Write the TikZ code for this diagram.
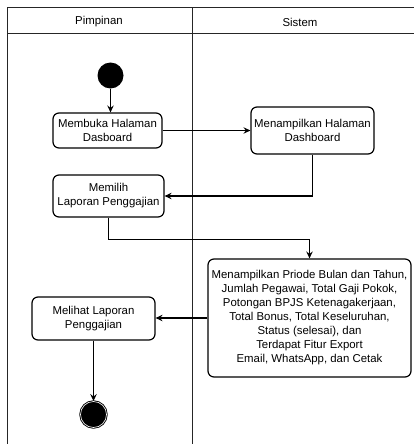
\documentclass[tikz,border=0pt]{standalone}
\usepackage{fontspec}
\setmainfont{Liberation Sans}
\usetikzlibrary{arrows.meta}
\begin{document}
\begin{tikzpicture}[x=1pt,y=-1pt,
  every node/.style={font=\fontsize{11.4}{14}\selectfont},
  lane/.style={line width=0.9pt, draw=black!85},
  action/.style={draw, line width=1.2pt, rounded corners=6pt, align=center,
    inner sep=0pt},
  flow/.style={line width=1.3pt, -{Stealth[length=7pt,width=6.5pt,inset=2.5pt]}},
  startdot/.style={circle, fill=black, minimum size=26pt, inner sep=0pt},
  enddot/.style={circle, draw=black, line width=0.9pt, fill=black,
    minimum size=26pt, inner sep=0pt, double=white, double distance=0.6pt}
]
\useasboundingbox (0,0) rectangle (414,444);

% swimlane frame
\draw[lane] (7.5,444) -- (7.5,7.5) -- (414,7.5);
\draw[lane] (7.5,33.5) -- (414,33.5);
\draw[lane] (192.5,7.5) -- (192.5,444);
\node (hPimpinan) at (99,22) {Pimpinan};
\node (hSistem) at (300,22) {Sistem};

% activity nodes
\node[startdot] (start) at (110.5,75.5) {};
\node[action, minimum width=109pt, minimum height=35pt] (b1) at (107.5,130.5)
  {Membuka Halaman\\Dasboard};
\node[action, minimum width=123pt, minimum height=47pt] (b2) at (312.5,130.5)
  {Menampilkan Halaman\\Dashboard};
\node[action, minimum width=111pt, minimum height=42pt] (b3) at (108.5,196)
  {Memilih\\Laporan Penggajian};
\node[action, minimum width=203pt, minimum height=118pt] (b4) at (309.5,318)
  {Menampilkan Priode Bulan dan Tahun,\\Jumlah Pegawai, Total Gaji Pokok,\\
   Potongan BPJS Ketenagakerjaan,\\Total Bonus, Total Keseluruhan,\\
   Status (selesai), dan\\Terdapat Fitur Export\\Email, WhatsApp, dan Cetak};
\node[action, minimum width=123pt, minimum height=43pt] (b5) at (93.5,318.5)
  {Melihat Laporan\\Penggajian};
\node[enddot] (stop) at (93.5,414.5) {};

% control flow
\draw[flow] (start) -- (start |- b1.north);
\draw[flow] (b1.east) -- (b1.east -| b2.west);
\draw[flow] (b2.south) |- (b3.east);
\draw[flow] (b3.south) -- ++(0,22) -| (b4.north);
\draw[flow] (b4.west) -- (b4.west -| b5.east);
\draw[flow] (b5.south) -- (stop.north);
\end{tikzpicture}
\end{document}
